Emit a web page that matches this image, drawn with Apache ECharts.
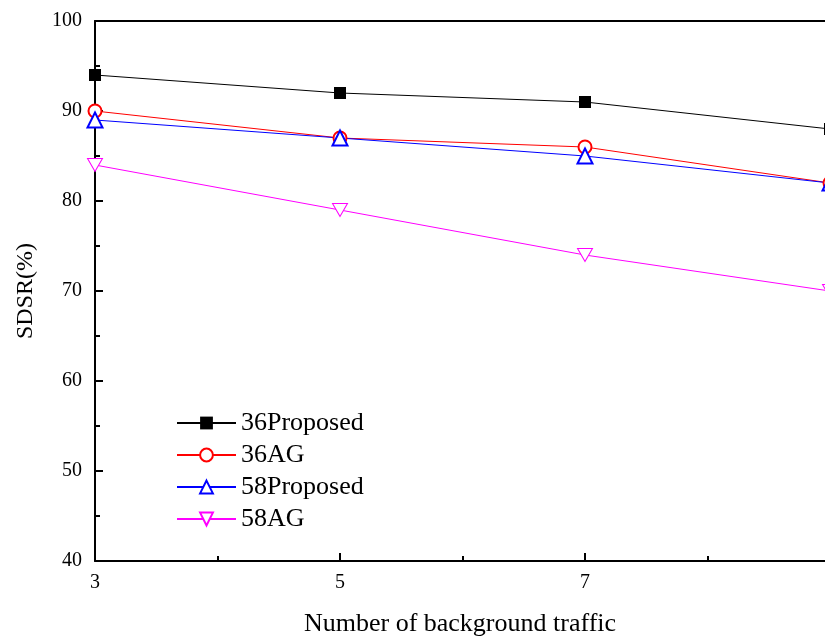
<!DOCTYPE html>
<html><head><meta charset="utf-8">
<script src="https://cdn.jsdelivr.net/npm/echarts@6/dist/echarts.min.js"></script>
<style>html,body{margin:0;padding:0;background:#fff;overflow:hidden}#c{width:825px;height:642px}</style>
</head><body><div id="c"></div>
<script>
const xValues = [3, 5, 7, 9];
const s36Proposed = [94, 92, 91, 88];
const s36AG = [90, 87, 86, 82];
const s58Proposed = [89, 87, 85, 82];
const s58AG = [84, 79, 74, 70];
const seriesNames = ['36Proposed', '36AG', '58Proposed', '58AG'];
const xMajorTicks = [3, 5, 7];
const xMinorTicks = [4, 6, 8];

const font = 'Liberation Serif';
const pair = arr => arr.map((v, i) => [xValues[i], v]);
const invTri = 'path://M0,0 L10,0 L5,9 Z';
// plot spans x=3..9 over 735px but the picture is cut at 730px
const xMin = 3, xMax = 3 + 6 * 730 / 735;

const chart = echarts.init(document.getElementById('c'));
chart.setOption({
  animation: false,
  backgroundColor: '#fff',
  grid: { left: 95, top: 21, bottom: 80, right: 0, show: false, containLabel: false },
  legend: {
    left: 176, top: 410, orient: 'vertical', padding: 0, itemWidth: 59, itemHeight: 16, itemGap: 6,
    textStyle: { fontFamily: font, fontSize: 26, lineHeight: 26, color: '#000' },
    data: seriesNames
  },
  xAxis: [{
    type: 'value', min: xMin, max: xMax,
    name: 'Number of background traffic', nameLocation: 'middle', nameGap: 50,
    nameTextStyle: { fontFamily: font, fontSize: 26, color: '#000' },
    axisLine: { lineStyle: { color: '#000', width: 2 } },
    axisTick: { inside: true, length: 8, customValues: xMajorTicks, lineStyle: { color: '#000', width: 2 } },
    axisLabel: { fontFamily: font, fontSize: 20, color: '#000', margin: 12, customValues: xMajorTicks },
    splitLine: { show: false }
  }, {
    type: 'value', min: xMin, max: xMax, position: 'bottom',
    axisLine: { show: false },
    axisTick: { inside: true, length: 5, customValues: xMinorTicks, lineStyle: { color: '#000', width: 2 } },
    axisLabel: { show: false },
    splitLine: { show: false }
  }, {
    type: 'value', min: xMin, max: xMax, position: 'top',
    axisLine: { lineStyle: { color: '#000', width: 2 } },
    axisTick: { show: false },
    axisLabel: { show: false },
    splitLine: { show: false }
  }],
  yAxis: {
    type: 'value', min: 40, max: 100, interval: 10,
    name: 'SDSR(%)', nameLocation: 'middle', nameGap: 57,
    nameTextStyle: { fontFamily: font, fontSize: 24, color: '#000' },
    axisLine: { lineStyle: { color: '#000', width: 2 } },
    axisTick: { inside: true, length: 8, lineStyle: { color: '#000', width: 2 } },
    minorTick: { show: true, splitNumber: 2, length: 5, lineStyle: { color: '#000', width: 2 } },
    axisLabel: { fontFamily: font, fontSize: 20, color: '#000', margin: 13 },
    splitLine: { show: false }
  },
  series: [
    { name: seriesNames[0], type: 'line', clip: false, data: pair(s36Proposed), symbol: 'rect', symbolSize: 12,
      lineStyle: { color: '#000', width: 1 }, itemStyle: { color: '#000' } },
    { name: seriesNames[1], type: 'line', clip: false, data: pair(s36AG), symbol: 'emptyCircle', symbolSize: 13,
      lineStyle: { color: '#ff0000', width: 1 }, itemStyle: { color: '#ff0000', borderWidth: 1 } },
    { name: seriesNames[2], type: 'line', clip: false, data: pair(s58Proposed), symbol: 'emptyTriangle', symbolSize: 15,
      lineStyle: { color: '#0000ff', width: 1 }, itemStyle: { color: '#0000ff', borderWidth: 1 } },
    { name: seriesNames[3], type: 'line', clip: false, data: pair(s58AG), symbol: invTri, symbolSize: [15, 13],
      lineStyle: { color: '#ff00ff', width: 1 }, itemStyle: { color: '#fff', borderColor: '#ff00ff', borderWidth: 1 } }
  ]
});
</script></body></html>
